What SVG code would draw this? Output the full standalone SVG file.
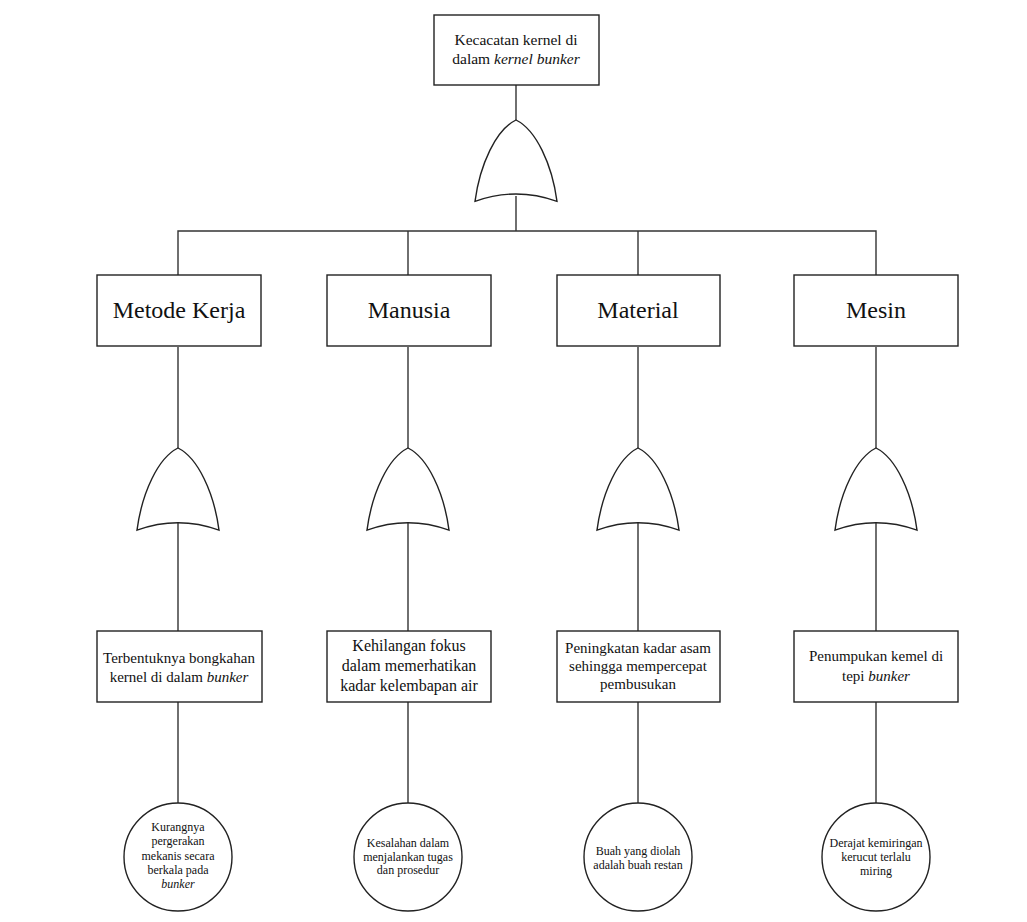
<svg xmlns="http://www.w3.org/2000/svg" width="1027" height="922" viewBox="0 0 1027 922">
<style>
.box{fill:#fff;stroke:#222;stroke-width:1.4}
.gate{fill:#fff;stroke:#222;stroke-width:1.4}
.ln{fill:none;stroke:#333;stroke-width:1.4}
text{font-family:"Liberation Serif","Times New Roman",serif;fill:#111;text-anchor:middle}
.t1{font-size:24px}
.t0{font-size:15.5px}
.t3{font-size:15px}
.t3b{font-size:16px}
.tc{font-size:12px}
.it{font-style:italic}
</style>
<defs>
<path id="gate" d="M0,0 C-20,10 -36,45 -41,83 Q0,68 41,83 C36,45 20,10 0,0 Z"/>
</defs>
<g id="connectors">
<line class="ln" x1="516" y1="85" x2="516" y2="120"/>
<line class="ln" x1="516" y1="196" x2="516" y2="231"/>
<polyline class="ln" points="178,275 178,231 876,231 876,275"/>
<line class="ln" x1="408" y1="231" x2="408" y2="275"/>
<line class="ln" x1="638" y1="231" x2="638" y2="275"/>
<line class="ln" x1="178" y1="347" x2="178" y2="448"/>
<line class="ln" x1="408" y1="347" x2="408" y2="448"/>
<line class="ln" x1="638" y1="347" x2="638" y2="448"/>
<line class="ln" x1="876" y1="347" x2="876" y2="448"/>
<line class="ln" x1="178" y1="523" x2="178" y2="631"/>
<line class="ln" x1="408" y1="523" x2="408" y2="631"/>
<line class="ln" x1="638" y1="523" x2="638" y2="631"/>
<line class="ln" x1="876" y1="523" x2="876" y2="631"/>
<line class="ln" x1="178" y1="702" x2="178" y2="803"/>
<line class="ln" x1="408" y1="702" x2="408" y2="803"/>
<line class="ln" x1="638" y1="702" x2="638" y2="803"/>
<line class="ln" x1="876" y1="702" x2="876" y2="803"/>
</g>
<g id="top">
<rect class="box" x="434" y="15" width="165" height="70"/>
<text class="t0" x="516" y="45">Kecacatan kernel di</text>
<text class="t0" x="516" y="64">dalam <tspan class="it">kernel bunker</tspan></text>
</g>
<g id="gate-top"><use href="#gate" class="gate" transform="translate(516,120) scale(1,0.98)"/></g>
<g id="metode-kerja">
<rect class="box" x="97" y="275" width="164" height="71"/>
<text class="t1" x="179" y="318">Metode Kerja</text>
</g>
<g id="manusia">
<rect class="box" x="327" y="275" width="164" height="71"/>
<text class="t1" x="409" y="318">Manusia</text>
</g>
<g id="material">
<rect class="box" x="557" y="275" width="163" height="71"/>
<text class="t1" x="638" y="318">Material</text>
</g>
<g id="mesin">
<rect class="box" x="794" y="275" width="164" height="71"/>
<text class="t1" x="876" y="318">Mesin</text>
</g>
<g id="gate-1"><use href="#gate" class="gate" transform="translate(178,448) scale(1,0.99)"/></g>
<g id="gate-2"><use href="#gate" class="gate" transform="translate(408,448) scale(1,0.99)"/></g>
<g id="gate-3"><use href="#gate" class="gate" transform="translate(638,448) scale(1,0.99)"/></g>
<g id="gate-4"><use href="#gate" class="gate" transform="translate(876,448) scale(1,0.99)"/></g>
<g id="e1">
<rect class="box" x="97" y="631" width="165" height="71"/>
<text class="t3" x="179" y="663">Terbentuknya bongkahan</text>
<text class="t3" x="179" y="682">kernel di dalam <tspan class="it">bunker</tspan></text>
</g>
<g id="e2">
<rect class="box" x="327" y="631" width="164" height="71"/>
<text class="t3b" x="409" y="651">Kehilangan fokus</text>
<text class="t3b" x="409" y="671">dalam memerhatikan</text>
<text class="t3b" x="409" y="691">kadar kelembapan air</text>
</g>
<g id="e3">
<rect class="box" x="557" y="631" width="163" height="71"/>
<text class="t3" x="638" y="653">Peningkatan kadar asam</text>
<text class="t3" x="638" y="671">sehingga mempercepat</text>
<text class="t3" x="638" y="689">pembusukan</text>
</g>
<g id="e4">
<rect class="box" x="794" y="631" width="164" height="71"/>
<text class="t3" x="876" y="661">Penumpukan kemel di</text>
<text class="t3" x="876" y="681">tepi <tspan class="it">bunker</tspan></text>
</g>
<g id="c1">
<circle class="box" cx="178" cy="857" r="54"/>
<text class="tc" x="178" y="831">Kurangnya</text>
<text class="tc" x="178" y="845">pergerakan</text>
<text class="tc" x="178" y="860">mekanis secara</text>
<text class="tc" x="178" y="874">berkala pada</text>
<text class="tc it" x="178" y="888">bunker</text>
</g>
<g id="c2">
<circle class="box" cx="408" cy="857" r="54"/>
<text class="tc" x="408" y="847">Kesalahan dalam</text>
<text class="tc" x="408" y="861">menjalankan tugas</text>
<text class="tc" x="408" y="874">dan prosedur</text>
</g>
<g id="c3">
<circle class="box" cx="638" cy="857" r="54"/>
<text class="tc" x="638" y="855">Buah yang diolah</text>
<text class="tc" x="638" y="869">adalah buah restan</text>
</g>
<g id="c4">
<circle class="box" cx="876" cy="857" r="54"/>
<text class="tc" x="876" y="847">Derajat kemiringan</text>
<text class="tc" x="876" y="861">kerucut terlalu</text>
<text class="tc" x="876" y="875">miring</text>
</g>
</svg>
